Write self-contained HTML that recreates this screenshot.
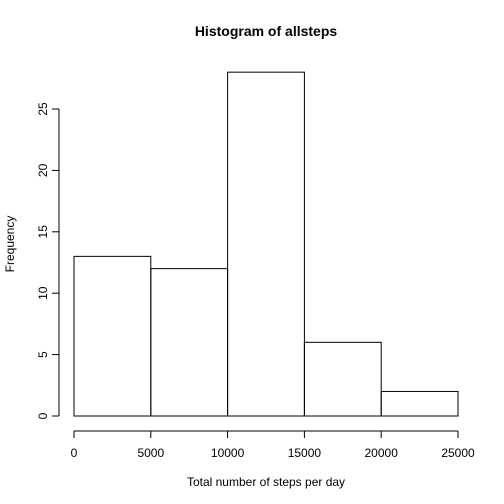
<!DOCTYPE html>
<html><head><meta charset="utf-8"><style>
html,body{margin:0;padding:0;background:#fff;}
svg{display:block;font-family:"Liberation Sans",sans-serif;}
</style></head><body>
<svg id="chart" width="504" height="504">
<text x="266" y="36" text-anchor="middle" font-size="14" font-weight="bold">Histogram of allsteps</text>
<text x="266" y="486" text-anchor="middle" font-size="12">Total number of steps per day</text>
<text transform="translate(14,244) rotate(-90)" text-anchor="middle" font-size="12">Frequency</text>
<g id="bars"></g><g id="xaxis"></g><g id="yaxis"></g>
</svg>
<script>
const breaks = [0, 5000, 10000, 15000, 20000, 25000];
const counts = [13, 12, 28, 6, 2];
const xTicks = [0, 5000, 10000, 15000, 20000, 25000];
const yTicks = [0, 5, 10, 15, 20, 25];
const NS = "http://www.w3.org/2000/svg";
function sx(v){return 74 + (v-0)*(458-74)/25000;}
function sy(v){return 416 - v*(416-109)/25;}
function mk(tag, attrs, parent){const e=document.createElementNS(NS,tag);for(const k in attrs)e.setAttribute(k,attrs[k]);parent.appendChild(e);return e;}
const bars=document.getElementById('bars');
counts.forEach((c,i)=>{
  const r=mk('rect',{x:sx(breaks[i]),y:sy(c),width:sx(breaks[i+1])-sx(breaks[i]),height:sy(0)-sy(c),fill:'none',stroke:'#000','stroke-width':1},bars);
  
  
});
const xa=document.getElementById('xaxis');
const xl=mk('line',{x1:sx(xTicks[0]),x2:sx(xTicks[xTicks.length-1]),y1:431,y2:431,stroke:'#000'},xa);


xTicks.forEach(t=>{
  mk('line',{x1:sx(t),x2:sx(t),y1:431,y2:438,stroke:'#000'},xa);
  const tx=mk('text',{x:sx(t),y:457,'text-anchor':'middle','font-size':12},xa);
  tx.textContent=t;
  
  
});
const ya=document.getElementById('yaxis');
const yl=mk('line',{x1:59,x2:59,y1:sy(yTicks[0]),y2:sy(yTicks[yTicks.length-1]),stroke:'#000'},ya);


yTicks.forEach(t=>{
  mk('line',{x1:52,x2:59,y1:sy(t),y2:sy(t),stroke:'#000'},ya);
  const tx=mk('text',{transform:'translate(47,'+sy(t)+') rotate(-90)','text-anchor':'middle','font-size':12},ya);
  tx.textContent=t;
  
  
});
</script>
</body></html>
